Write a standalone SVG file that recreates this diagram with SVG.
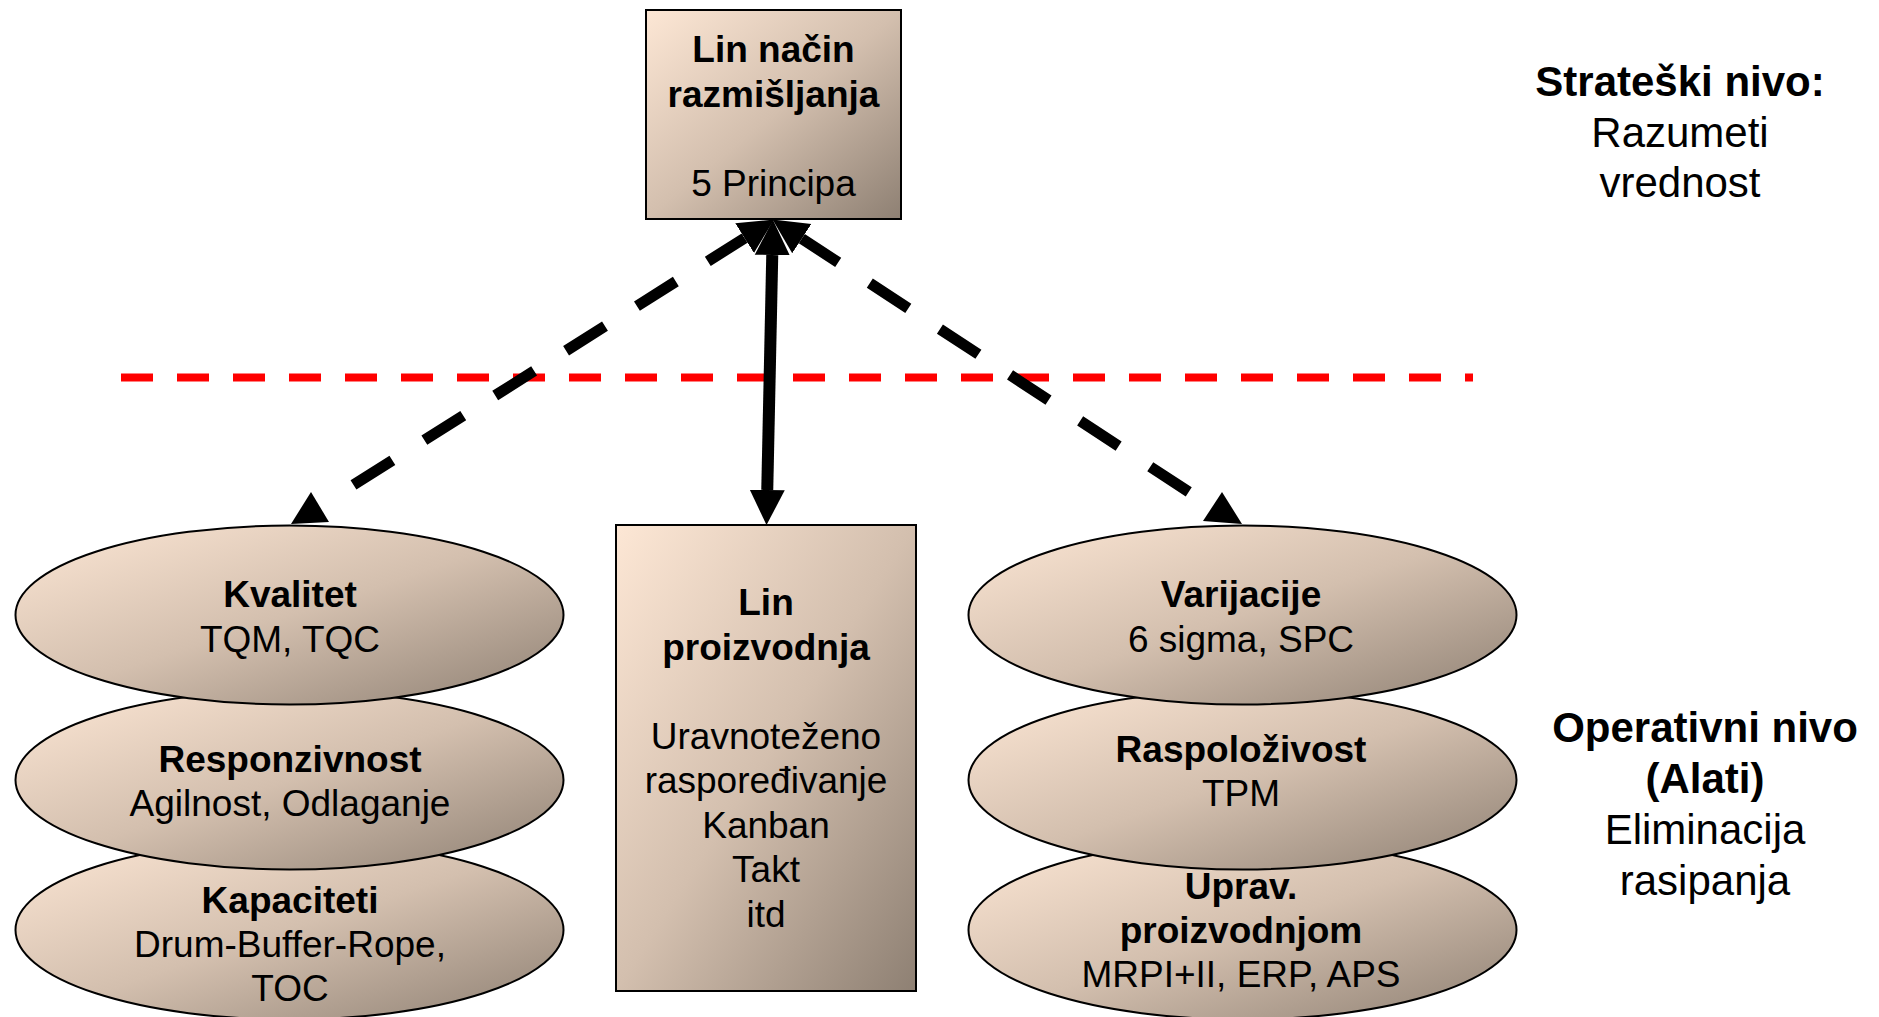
<svg xmlns="http://www.w3.org/2000/svg" width="1879" height="1017" viewBox="0 0 1879 1017">
<style>
text{font-family:"Liberation Sans",Arial,sans-serif;fill:#000;text-anchor:middle}
.n{font-size:37px}
.b{font-weight:bold}
.s{font-size:42px}
.shape{fill:url(#g);stroke:#000;stroke-width:2}
.conn{fill:none;stroke:#000}
.dash{stroke-width:11;stroke-dasharray:46 37.8;stroke-dashoffset:2.5}
.head{fill:#000;stroke:none}
</style>
<defs>
<linearGradient id="g" x1="0" y1="0" x2="1" y2="1">
<stop offset="0" stop-color="#FDE7D5"/>
<stop offset="0.5" stop-color="#D3BFAE"/>
<stop offset="1" stop-color="#8E8073"/>
</linearGradient>
<marker id="ah" markerUnits="userSpaceOnUse" markerWidth="40" markerHeight="40" viewBox="0 -20 40 40" refX="0" refY="0" orient="auto-start-reverse">
<path d="M0,-17.5 L35,0 L0,17.5 z" fill="#000"/>
</marker>
</defs>
<rect width="1879" height="1017" fill="#fff"/>

<g id="node-top">
<rect class="shape" x="646" y="10" width="255" height="209"/>
<text class="n b" x="773.5" y="62">Lin način</text>
<text class="n b" x="773.5" y="106.5">razmišljanja</text>
<text class="n" x="773.5" y="195.5">5 Principa</text>
</g>

<g id="node-kapaciteti">
<ellipse class="shape" cx="289.5" cy="930" rx="274" ry="89.5"/>
<text class="n b" x="290" y="913">Kapaciteti</text>
<text class="n" x="290" y="957">Drum-Buffer-Rope,</text>
<text class="n" x="290" y="1001">TOC</text>
</g>
<g id="node-responzivnost">
<ellipse class="shape" cx="289.5" cy="780" rx="274" ry="89.5"/>
<text class="n b" x="290" y="772">Responzivnost</text>
<text class="n" x="290" y="816">Agilnost, Odlaganje</text>
</g>
<g id="node-kvalitet">
<ellipse class="shape" cx="289.5" cy="615" rx="274" ry="89.5"/>
<text class="n b" x="290" y="607">Kvalitet</text>
<text class="n" x="290" y="652">TQM, TQC</text>
</g>

<g id="node-lin-proizvodnja">
<rect class="shape" x="616" y="525" width="300" height="466"/>
<text class="n b" x="766" y="615">Lin</text>
<text class="n b" x="766" y="659.5">proizvodnja</text>
<text class="n" x="766" y="748.5">Uravnoteženo</text>
<text class="n" x="766" y="793">raspoređivanje</text>
<text class="n" x="766" y="837.5">Kanban</text>
<text class="n" x="766" y="882">Takt</text>
<text class="n" x="766" y="926.5">itd</text>
</g>

<g id="node-uprav">
<ellipse class="shape" cx="1242.5" cy="930" rx="274" ry="89.5"/>
<text class="n b" x="1241" y="899">Uprav.</text>
<text class="n b" x="1241" y="943">proizvodnjom</text>
<text class="n" x="1241" y="987">MRPI+II, ERP, APS</text>
</g>
<g id="node-raspolozivost">
<ellipse class="shape" cx="1242.5" cy="780" rx="274" ry="89.5"/>
<text class="n b" x="1241" y="762">Raspoloživost</text>
<text class="n" x="1241" y="806">TPM</text>
</g>
<g id="node-varijacije">
<ellipse class="shape" cx="1242.5" cy="615" rx="274" ry="89.5"/>
<text class="n b" x="1241" y="607">Varijacije</text>
<text class="n" x="1241" y="652">6 sigma, SPC</text>
</g>

<g id="label-strateski">
<text class="s b" x="1680" y="96">Strateški nivo:</text>
<text class="s" x="1680" y="147">Razumeti</text>
<text class="s" x="1680" y="197">vrednost</text>
</g>
<g id="label-operativni">
<text class="s b" x="1705" y="742">Operativni nivo</text>
<text class="s b" x="1705" y="793">(Alati)</text>
<text class="s" x="1705" y="844">Eliminacija</text>
<text class="s" x="1705" y="895">rasipanja</text>
</g>

<g id="connectors">
<line x1="121" y1="377.5" x2="1473" y2="377.5" stroke="#FF0000" stroke-width="8" stroke-dasharray="32 24"/>
<path class="conn" stroke-width="12" d="M772.25,255 L767.25,490" marker-start="url(#ah)" marker-end="url(#ah)"/>
<path class="conn dash" d="M744.6,238.1 L325.2,502.8" marker-start="url(#ah)"/>
<polygon class="head" points="311,492 291,524 329,522"/>
<path class="conn dash" d="M801.8,238.6 L1216.8,510.3" marker-start="url(#ah)"/>
<polygon class="head" points="1222,492 1203,521 1242,524"/>
</g>
</svg>
